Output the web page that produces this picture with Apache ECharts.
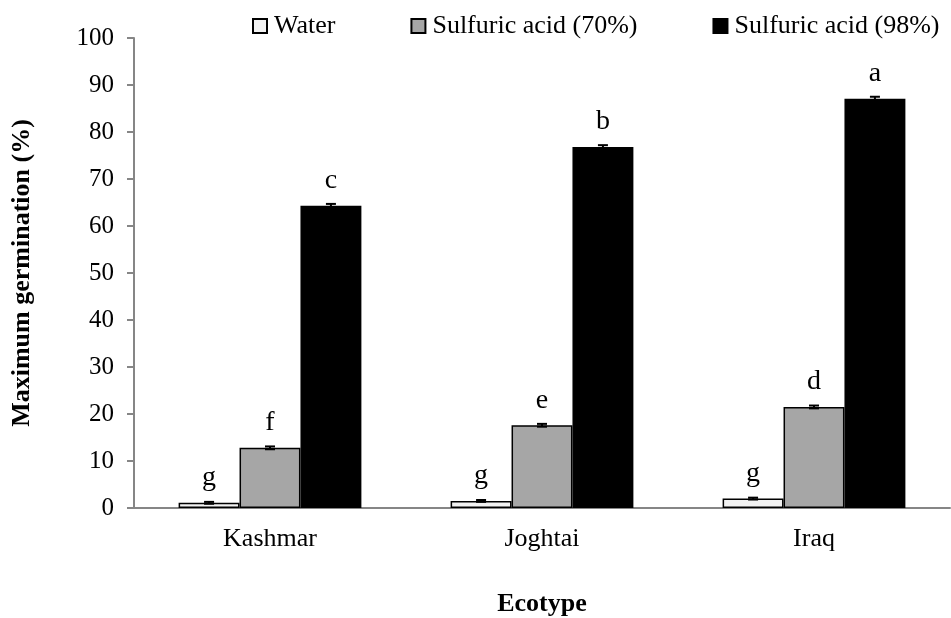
<!DOCTYPE html>
<html>
<head>
<meta charset="utf-8">
<script src="https://cdn.jsdelivr.net/npm/echarts@6/dist/echarts.min.js"></script>
<style>html,body{margin:0;padding:0;background:#fff;}#chart{width:951px;height:618px;}</style>
</head>
<body>
<div id="chart"></div>
<script>
const categories = ['Kashmar', 'Joghtai', 'Iraq'];
const seriesNames = ['Water', 'Sulfuric acid (70%)', 'Sulfuric acid (98%)'];
const waterValues = [1.1, 1.5, 2.0];
const acid70Values = [12.8, 17.6, 21.5];
const acid98Values = [64.3, 76.8, 87.1];
const waterErrors = [0.2, 0.2, 0.2];
const acid70Errors = [0.3, 0.3, 0.3];
const acid98Errors = [0.4, 0.4, 0.4];
const waterLetters = ['g', 'g', 'g'];
const acid70Letters = ['f', 'e', 'd'];
const acid98Letters = ['c', 'b', 'a'];
const yTicks = [0, 10, 20, 30, 40, 50, 60, 70, 80, 90, 100];

const FONT = "'Liberation Serif', 'Times New Roman', serif";
const BAR_FRAC = 0.224;

const chart = echarts.init(document.getElementById('chart'));

function barSeries(name, values, letters, color) {
  return {
    name: name,
    type: 'bar',
    data: values,
    barWidth: (BAR_FRAC * 100) + '%',
    barGap: '0%',
    itemStyle: { color: color, borderColor: '#000', borderWidth: 1.5 },
    label: {
      show: true, position: 'top', distance: 11,
      fontFamily: FONT, fontSize: 28, color: '#000',
      formatter: p => letters[p.dataIndex]
    },
    emphasis: { disabled: true }
  };
}

function errorSeries(values, errors, slot) {
  return {
    type: 'custom',
    silent: true,
    z: 5,
    data: values.map((v, i) => [i, v, errors[i]]),
    renderItem: function (params, api) {
      const i = api.value(0), v = api.value(1), e = api.value(2);
      const band = api.size([1, 0])[0];
      const c = api.coord([i, v]);
      const x = c[0] + slot * band * BAR_FRAC;
      const yHi = api.coord([i, v + e])[1];
      const yLo = api.coord([i, v - e])[1];
      const hw = 5;
      const st = { stroke: '#000', lineWidth: 2 };
      return {
        type: 'group',
        children: [
          { type: 'line', shape: { x1: x, y1: yHi, x2: x, y2: yLo }, style: st },
          { type: 'line', shape: { x1: x - hw, y1: yHi, x2: x + hw, y2: yHi }, style: st },
          { type: 'line', shape: { x1: x - hw, y1: yLo, x2: x + hw, y2: yLo }, style: st }
        ]
      };
    }
  };
}

chart.setOption({
  animation: false,
  backgroundColor: '#fff',
  textStyle: { fontFamily: FONT },
  legend: {
    data: seriesNames,
    top: 8,
    left: 247,
    itemWidth: 14,
    itemHeight: 14,
    itemGap: 75,
    icon: 'rect',
    textStyle: { fontFamily: FONT, fontSize: 26, color: '#000', padding: [0, 0, 0, 2] }
  },
  grid: { left: 134, right: 1, top: 38, bottom: 110, containLabel: false, outerBoundsMode: 'none' },
  xAxis: {
    type: 'category',
    data: categories,
    name: 'Ecotype',
    nameLocation: 'middle',
    nameGap: 83,
    nameTextStyle: { fontFamily: FONT, fontSize: 26, fontWeight: 'bold', color: '#000' },
    axisLine: { lineStyle: { color: '#868686', width: 2 } },
    axisTick: { show: false },
    axisLabel: { fontFamily: FONT, fontSize: 26, color: '#000', margin: 18 }
  },
  yAxis: {
    type: 'value',
    min: yTicks[0],
    max: yTicks[yTicks.length - 1],
    interval: 10,
    name: 'Maximum germination (%)',
    nameLocation: 'middle',
    nameGap: 99,
    nameRotate: 90,
    nameTextStyle: { fontFamily: FONT, fontSize: 26, fontWeight: 'bold', color: '#000' },
    axisLine: { show: true, lineStyle: { color: '#868686', width: 2 } },
    axisTick: { show: true, length: 7, lineStyle: { color: '#868686', width: 2 } },
    axisLabel: { fontFamily: FONT, fontSize: 25, color: '#000', margin: 20 },
    splitLine: { show: false }
  },
  series: [
    barSeries(seriesNames[0], waterValues, waterLetters, '#f2f2f2'),
    barSeries(seriesNames[1], acid70Values, acid70Letters, '#a6a6a6'),
    barSeries(seriesNames[2], acid98Values, acid98Letters, '#000000'),
    errorSeries(waterValues, waterErrors, -1),
    errorSeries(acid70Values, acid70Errors, 0),
    errorSeries(acid98Values, acid98Errors, 1)
  ]
});
</script>
</body>
</html>
